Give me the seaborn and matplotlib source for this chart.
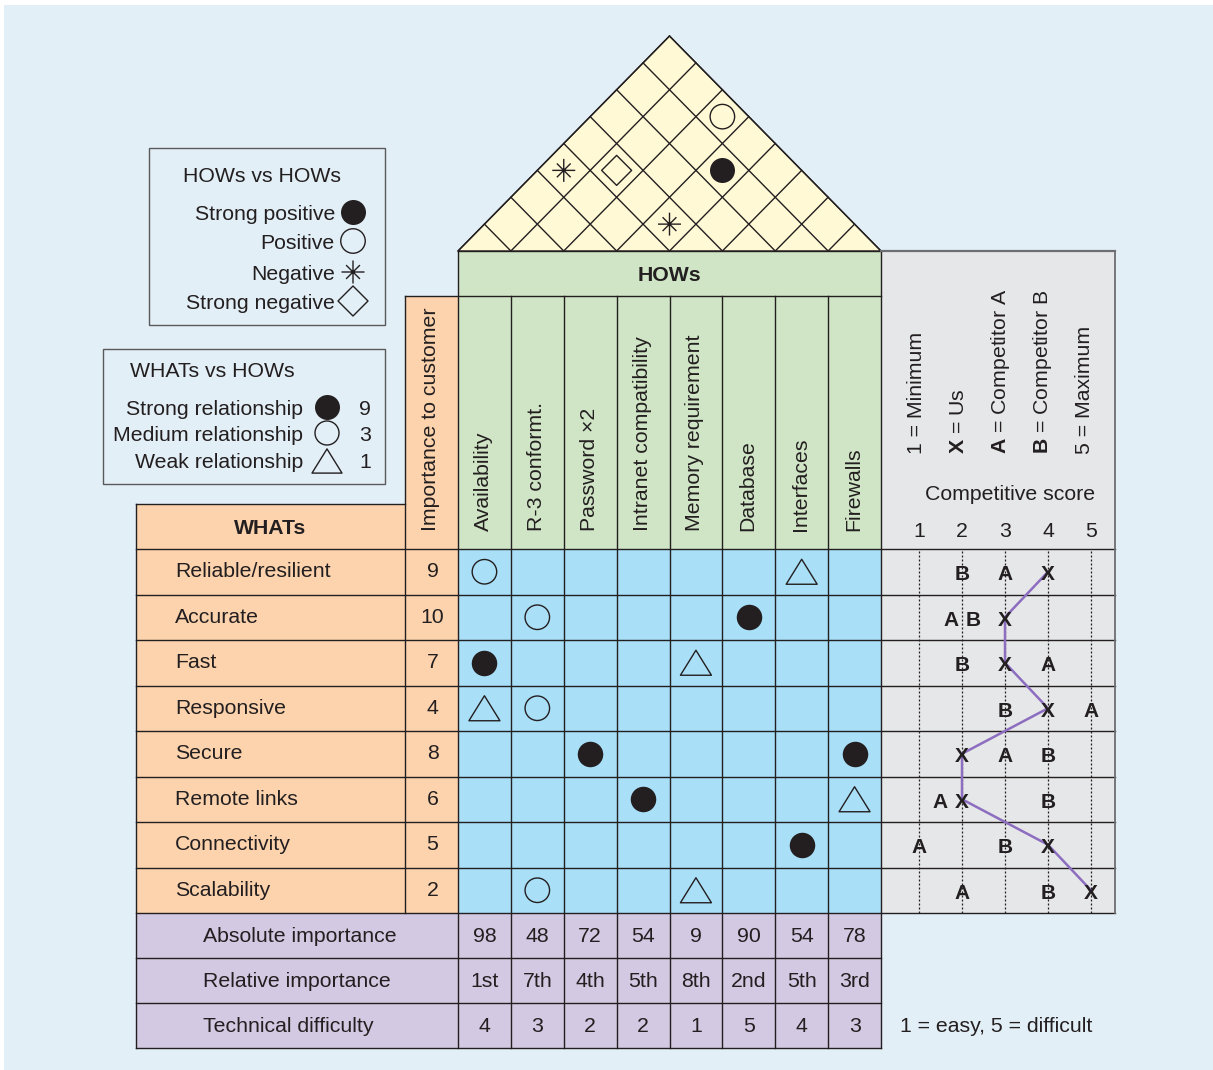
import numpy as np
import pandas as pd
import matplotlib
matplotlib.use("Agg")
import matplotlib.pyplot as plt
from matplotlib.patches import Rectangle, Polygon
from matplotlib.path import Path
from matplotlib.transforms import offset_copy
import seaborn as sns

# ---------------- data ----------------
whats = ["Reliable/resilient", "Accurate", "Fast", "Responsive", "Secure",
         "Remote links", "Connectivity", "Scalability"]
importance = [9, 10, 7, 4, 8, 6, 5, 2]
hows = ["Availability", "R-3 conformt.", "Password \u00d72", "Intranet compatibility",
        "Memory requirement", "Database", "Interfaces", "Firewalls"]
# WHATs vs HOWs relationships (row index, column index, weight 9/3/1)
rel_what = [0, 0, 1, 1, 2, 2, 3, 3, 4, 4, 5, 5, 6, 7, 7]
rel_how = [0, 6, 1, 5, 0, 4, 0, 1, 2, 7, 3, 7, 6, 1, 4]
rel_weight = [3, 1, 3, 9, 9, 1, 1, 3, 9, 9, 9, 1, 9, 3, 1]
# HOWs vs HOWs correlations (roof)
roof_a = [0, 1, 2, 3, 3]
roof_b = [3, 4, 7, 6, 4]
roof_kind = ["negative", "strong negative", "positive", "strong positive", "negative"]
absolute_importance = [98, 48, 72, 54, 9, 90, 54, 78]
relative_importance = ["1st", "7th", "4th", "5th", "8th", "2nd", "5th", "3rd"]
technical_difficulty = [4, 3, 2, 2, 1, 5, 4, 3]
score_us = [4, 3, 3, 4, 2, 2, 4, 5]
score_a = [3, 2, 4, 5, 3, 2, 1, 2]
score_b = [2, 2, 2, 3, 4, 4, 3, 4]
score_ticks = [1, 2, 3, 4, 5]
score_legend = ["1 = Minimum", r"$\mathbf{X}$ = Us", r"$\mathbf{A}$ = Competitor A",
                r"$\mathbf{B}$ = Competitor B", "5 = Maximum"]
bottom_labels = ["Absolute importance", "Relative importance", "Technical difficulty"]

# ---------------- style ----------------
plt.rcParams['font.family'] = ['Liberation Sans', 'DejaVu Sans']
plt.rcParams['mathtext.fontset'] = 'custom'
plt.rcParams['mathtext.rm'] = 'Liberation Sans'
plt.rcParams['mathtext.bf'] = 'Liberation Sans:bold'

INK = "#231f20"
BG = "#e3eff6"
ORANGE = "#fcd3ad"
GREEN = "#cfe5c5"
BLUE = "#a9dff7"
LILAC = "#d4c9e2"
GRAY = "#e6e7e8"
YELLOW = "#fff9d6"
LINE_PURPLE = "#8c6dc0"
BOXGRAY = "#58595b"
FS = 15.3
LW = 1.0

W, H = 1213, 1070
fig = plt.figure(figsize=(W / 100, H / 100), dpi=100)
fig.patch.set_facecolor("white")
ax = fig.add_axes([0, 0, 1, 1])

# geometry (pixels)
X0, X1 = 458, 881          # HOWs columns
Y0, Y1 = 549, 913          # WHATs rows
LX0, IX0 = 136, 405        # WHATs label column, importance column
PX1 = 1115                 # competitive panel right edge
ROOF_BASE, ROOF_TOP = 251, 36
HOWS_Y1 = 296
ncol, nrow = len(hows), len(whats)
cw = (X1 - X0) / ncol
rh = (Y1 - Y0) / nrow
BR = [913, 958, 1003, 1048]
roof_slope = (ROOF_BASE - ROOF_TOP) / ((X1 - X0) / 2)


def rect(x0, y0, x1, y1, fc, ec="none", lw=0, z=1):
    ax.add_patch(Rectangle((x0, y0), x1 - x0, y1 - y0, fc=fc, ec=ec, lw=lw, zorder=z))


def hline(y, x0, x1, color=INK, lw=LW, z=3):
    ax.plot([x0, x1], [y, y], color=color, lw=lw, zorder=z, solid_capstyle="projecting")


def vline(x, y0, y1, color=INK, lw=LW, z=3):
    ax.plot([x, x], [y0, y1], color=color, lw=lw, zorder=z, solid_capstyle="projecting")


def txt(axis, x, y, s, size=FS, ha="center", weight="normal", z=8):
    tr = offset_copy(axis.transData, fig=fig, x=0, y=-0.716 * size / 2, units="points")
    axis.text(x, y, s, transform=tr, ha=ha, va="baseline", fontsize=size,
              fontweight=weight, color=INK, zorder=z, clip_on=False)


def vtxt(x, y, s, size=FS):
    ax.text(x, y, s, rotation=90, ha="center", va="bottom", fontsize=size,
            color=INK, zorder=8)


TRI = Path([(-0.62, -0.5), (0.62, -0.5), (0, 0.5), (-0.62, -0.5)], [1, 2, 2, 79])
DIAMOND = Path([(0, 1), (1, 0), (0, -1), (-1, 0), (0, 1)], [1, 2, 2, 2, 79])
STAR = Path([(-1, 0), (1, 0), (0, -1), (0, 1), (-0.6, -0.6), (0.6, 0.6), (-0.6, 0.6), (0.6, -0.6)],
            [1, 2, 1, 2, 1, 2, 1, 2])


def marks(axis, x, y, marker, size_px, filled, lw=1.0, z=6):
    s = (size_px * 0.72) ** 2
    if len(x) == 0:
        return
    if filled:
        sns.scatterplot(x=list(x), y=list(y), ax=axis, marker=marker, s=s, color=INK,
                        edgecolor=INK, linewidth=0, legend=False, zorder=z)
    else:
        sns.scatterplot(x=list(x), y=list(y), ax=axis, marker=marker, s=s, color="none",
                        edgecolor=INK, linewidth=lw, legend=False, zorder=z)


# ---------------- background & fills ----------------
rect(4, 5, W, H, BG, z=0)
rect(LX0, 504, IX0, Y1, ORANGE)
rect(IX0, HOWS_Y1, X0, Y1, ORANGE)
rect(X0, ROOF_BASE, X1, Y0, GREEN)
rect(X0, Y0, X1, Y1, BLUE)
rect(LX0, BR[0], X1, BR[-1], LILAC)
rect(X1, ROOF_BASE, PX1, Y1, GRAY)
apex_x = (X0 + X1) / 2
ax.add_patch(Polygon([(X0, ROOF_BASE), (apex_x, ROOF_TOP), (X1, ROOF_BASE)], closed=True,
                     fc=YELLOW, ec=INK, lw=LW, zorder=2))

# roof lattice
for k in range(ncol + 1):
    xk = X0 + k * cw
    lx = (X0 + xk) / 2
    ax.plot([xk, lx], [ROOF_BASE, ROOF_BASE - (xk - X0) / 2 * roof_slope], color=INK, lw=LW, zorder=3)
    rx = (X1 + xk) / 2
    ax.plot([xk, rx], [ROOF_BASE, ROOF_BASE - (X1 - xk) / 2 * roof_slope], color=INK, lw=LW, zorder=3)

# ---------------- grid lines ----------------
hline(504, LX0, IX0)
hline(HOWS_Y1, IX0, X1)
hline(ROOF_BASE, X0, X1)
for k in range(nrow + 1):
    hline(Y0 + k * rh, LX0, PX1)
for y in BR[1:]:
    hline(y, LX0, X1)
vline(LX0, 504, BR[-1])
vline(IX0, HOWS_Y1, Y1)
vline(X0, ROOF_BASE, BR[-1])
vline(X1, ROOF_BASE, BR[-1])
for k in range(1, ncol):
    vline(X0 + k * cw, HOWS_Y1, BR[-1])
hline(ROOF_BASE, X1, PX1, color="#6d6e71", lw=1.6)
vline(PX1, ROOF_BASE, Y1, color="#6d6e71", lw=1.3)

# ---------------- headers ----------------
txt(ax, (X0 + X1) / 2, (ROOF_BASE + HOWS_Y1) / 2, "HOWs", weight="bold")
txt(ax, (LX0 + IX0) / 2, (504 + Y0) / 2, "WHATs", weight="bold")
vtxt((IX0 + X0) / 2 - 1, 531, "Importance to customer")
for j, name in enumerate(hows):
    vtxt(X0 + (j + 0.5) * cw - 1, 531, name)

# WHATs rows
for i, (w, imp) in enumerate(zip(whats, importance)):
    yc = Y0 + (i + 0.5) * rh - 2
    txt(ax, 175, yc, w, ha="left")
    txt(ax, (IX0 + X0) / 2 + 1, yc, str(imp))

# bottom rows
for r, (lab, vals) in enumerate(zip(bottom_labels,
                                    [absolute_importance, relative_importance, technical_difficulty])):
    yc = (BR[r] + BR[r + 1]) / 2 - 1
    txt(ax, 203, yc, lab, ha="left")
    for j, v in enumerate(vals):
        txt(ax, X0 + (j + 0.5) * cw, yc, str(v))
txt(ax, 900, 1024, "1 = easy, 5 = difficult", ha="left")

# ---------------- relationship matrix ----------------
axm = fig.add_axes([X0 / W, 1 - Y1 / H, (X1 - X0) / W, (Y1 - Y0) / H])
rel = pd.DataFrame(dict(what=rel_what, how=rel_how, weight=rel_weight))
s9 = rel[rel.weight == 9]
s3 = rel[rel.weight == 3]
s1 = rel[rel.weight == 1]
marks(axm, s9.how, s9.what, "o", 25.5, True)
marks(axm, s3.how, s3.what, "o", 24.5, False, lw=1.0)
marks(axm, s1.how, s1.what, TRI, 31, False, lw=1.0)
axm.set_xlim(-0.5, ncol - 0.5)
axm.set_ylim(nrow - 0.5, -0.5)
axm.axis("off")

# ---------------- roof correlations ----------------
roof = pd.DataFrame(dict(a=roof_a, b=roof_b, kind=roof_kind))
roof["x"] = X0 + ((roof.a + roof.b) / 2 + 0.5) * cw
roof["y"] = ROOF_BASE - (roof.b - roof.a) * cw / 2 * roof_slope
style = {"strong positive": ("o", 25, True), "positive": ("o", 24.5, False),
         "negative": (STAR, 23, False), "strong negative": (DIAMOND, 30, False)}
for kind, (m, sz, filled) in style.items():
    sub = roof[roof.kind == kind]
    marks(ax, sub.x, sub.y, m, sz, filled, lw=1.0)

# ---------------- legends ----------------
ax.add_patch(Rectangle((149, 148), 385 - 149, 325 - 148, fc="none", ec=BOXGRAY, lw=1.0, zorder=4))
ax.add_patch(Rectangle((103, 349), 385 - 103, 484 - 349, fc="none", ec=BOXGRAY, lw=1.0, zorder=4))
txt(ax, 183, 174, "HOWs vs HOWs", ha="left")
leg1 = [("Strong positive", 212), ("Positive", 241), ("Negative", 272), ("Strong negative", 301)]
for (lab, y) in leg1:
    txt(ax, 335, y, lab, ha="right")
for (kind, (m, sz, filled)), (lab, y) in zip(
        [("strong positive", style["strong positive"]), ("positive", style["positive"]),
         ("negative", style["negative"]), ("strong negative", style["strong negative"])], leg1):
    marks(ax, [353], [y], m, sz, filled, lw=1.0)

txt(ax, 130, 369, "WHATs vs HOWs", ha="left")
leg2 = [("Strong relationship", 407, 9, "o", 25, True),
        ("Medium relationship", 433, 3, "o", 24, False),
        ("Weak relationship", 460, 1, TRI, 30, False)]
for lab, y, wgt, m, sz, filled in leg2:
    txt(ax, 303, y, lab, ha="right")
    txt(ax, 365, y, str(wgt))
    marks(ax, [327], [y + (1 if m is TRI else 0)], m, sz, filled, lw=1.0)

# ---------------- competitive assessment ----------------
S1_PX, S_STEP = 919, 43
axc = fig.add_axes([X1 / W, 1 - Y1 / H, (PX1 - X1) / W, (Y1 - Y0) / H])
for s in score_ticks:
    axc.axvline(s, color=INK, lw=0.9, ls=(0, (1.6, 1.6)), zorder=2)
rows = list(range(nrow))
sns.lineplot(x=score_us, y=rows, estimator=None, sort=False, color=LINE_PURPLE,
             linewidth=1.8, ax=axc, legend=False, zorder=4)
for r in rows:
    pos = {"X": float(score_us[r]), "A": float(score_a[r]), "B": float(score_b[r])}
    if pos["A"] == pos["X"]:
        pos["A"] -= 0.5
    if pos["B"] == pos["X"]:
        pos["B"] += 0.5
    if pos["A"] == pos["B"]:
        pos["A"] -= 0.25
        pos["B"] += 0.25
    for letter, xv in pos.items():
        txt(axc, xv, r + 0.02, letter, size=15, weight="bold", z=6)
axc.set_xlim(1 - (S1_PX - X1) / S_STEP, 1 + (PX1 - S1_PX) / S_STEP)
axc.set_ylim(nrow - 0.5, -0.5)
axc.axis("off")
tick_row = -0.5 - (Y0 - 529) / rh
for s in score_ticks:
    txt(axc, s, tick_row, str(s))
txt(ax, 1010, 492, "Competitive score")
for xp, lab in zip([917, 959, 1000, 1042, 1084], score_legend):
    vtxt(xp, 454, lab)

ax.set_xlim(0, W)
ax.set_ylim(H, 0)
ax.axis("off")
fig.savefig("out.png", dpi=100, facecolor="white")
